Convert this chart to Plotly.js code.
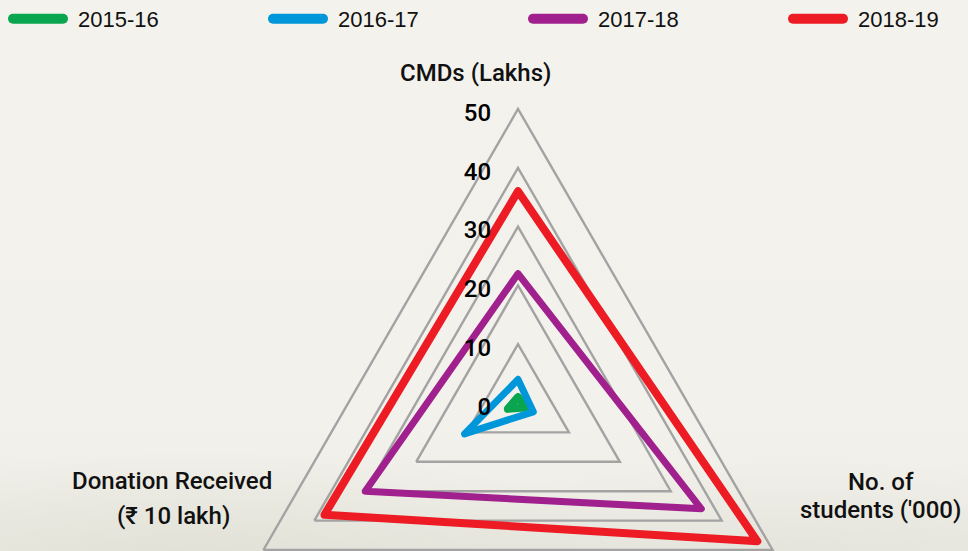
<!DOCTYPE html>
<html>
<head>
<meta charset="utf-8">
<script src="https://cdn.plot.ly/plotly-3.0.1.min.js"></script>
<style>
html, body { margin: 0; padding: 0; width: 968px; height: 551px; overflow: hidden; }
#wrap {
  width: 968px; height: 551px; overflow: hidden; position: relative;
  background:
    radial-gradient(ellipse 500px 120px at 200px 570px, rgba(205,207,192,0.45), rgba(205,207,192,0) 100%),
    radial-gradient(ellipse 500px 110px at 800px 570px, rgba(208,208,196,0.35), rgba(208,208,196,0) 100%),
    linear-gradient(to bottom, #f4f2ec 0%, #f3f1eb 75%, #eeede6 100%);
}
#chart { width: 1100px; height: 700px; }
.scatterlayer .js-line { stroke-linecap: round; stroke-linejoin: round; }
.legendlines path { stroke-linecap: round; stroke-width: 10px !important; }
</style>
</head>
<body>
<div id="wrap"><div id="chart"></div></div>
<script>
// ---- data ----
const categories = ["CMDs (Lakhs)", "No. of<br>students ('000)", "Donation Received<br>(₹ 10 lakh)"];
const seriesNames = ["2015-16", "2016-17", "2017-18", "2018-19"];
const v2015_16 = [1, 1.5, 2];
const v2016_17 = [4, 3, 10.5];
const v2017_18 = [22, 36, 30];
const v2018_19 = [36, 47, 38];
const radialTicks = [0, 10, 20, 30, 40, 50];

// ---- styles ----
const seriesValues = [v2015_16, v2016_17, v2017_18, v2018_19];
const colors = ["#0aa64f", "#0096da", "#a0218e", "#ed1c24"];
const widths = [8, 7, 7, 8];
const FONT = "Roboto, 'Liberation Sans', Arial, sans-serif";
const GRID = "#a3a3a3";

const traces = seriesValues.map((vals, i) => ({
  type: "scatterpolar",
  mode: "lines",
  name: seriesNames[i],
  r: vals.concat([vals[0]]),
  theta: categories.concat([categories[0]]),
  line: { color: colors[i], width: widths[i] },
  hoverinfo: "skip"
}));

// geometry: full-width plot area, polar placed by domain
const W = 1100, H = 700;
const T = 109, S = 588, CX = 518;
const px = x => x / W;
const py = y => (T + S - y) / S;
const labelPos = [
  [[475, 73]],
  [[881, 482], [880, 510]],
  [[172, 481], [173, 516]]
];
const annotations = [];
categories.forEach((c, i) => {
  c.split("<br>").forEach((line, j) => {
    const p = labelPos[i][j];
    annotations.push({
      text: line, showarrow: false, xref: "paper", yref: "paper",
      x: px(p[0]), y: py(p[1]), xanchor: "center", yanchor: "middle",
      font: { family: FONT, size: 24, weight: 500, color: "#111" }
    });
  });
});

const layout = {
  width: W, height: H,
  margin: { l: 0, r: 0, t: T, b: H - T - S, pad: 0 },
  paper_bgcolor: "rgba(0,0,0,0)",
  plot_bgcolor: "rgba(0,0,0,0)",
  showlegend: true,
  legend: {
    orientation: "h", xref: "paper", yref: "container",
    x: 4 / W, y: 1 - 19 / H, xanchor: "left", yanchor: "middle",
    entrywidth: 181, entrywidthmode: "pixels", itemwidth: 64,
    font: { family: "'Liberation Sans', Arial, sans-serif", size: 22, color: "#111" },
    bgcolor: "rgba(0,0,0,0)", borderwidth: 0, traceorder: "normal"
  },
  polar: {
    domain: { x: [(CX - S / 2) / W, (CX + S / 2) / W], y: [0, 1] },
    bgcolor: "rgba(0,0,0,0)",
    gridshape: "linear",
    angularaxis: {
      rotation: 90, direction: "clockwise",
      showticklabels: false, ticks: "", showgrid: false,
      showline: true, linecolor: GRID, linewidth: 2.4
    },
    radialaxis: {
      range: [0, 50], tickmode: "array", tickvals: radialTicks,
      angle: 90, side: "counterclockwise",
      showline: false, gridcolor: GRID, gridwidth: 2.4,
      ticks: "outside", ticklen: 18, tickcolor: "rgba(0,0,0,0)",
      tickangle: 90,
      tickfont: { family: FONT, size: 24, weight: 500, color: "#000" }
    }
  },
  annotations: annotations
};

Plotly.newPlot("chart", traces, layout, { displayModeBar: false, staticPlot: true }).then(gd => {
  gd.querySelectorAll(".legendlines path").forEach(p => p.setAttribute("d", "M9,0h50"));
  // nudge radial tick labels slightly downward (axis frame is rotated by -90deg)
  gd.querySelectorAll(".radial-axis g.xtick, .radial-axis g.ytick").forEach(g => {
    const t = g.getAttribute("transform") || "";
    g.setAttribute("transform", t + " translate(-4,0)");
  });
});
</script>
</body>
</html>
